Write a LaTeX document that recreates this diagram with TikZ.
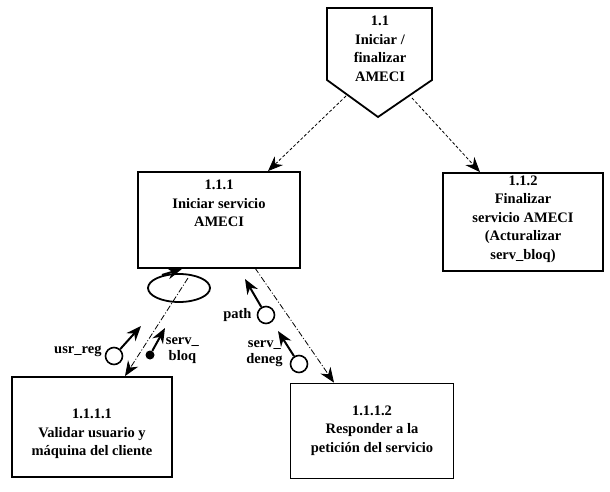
\documentclass[tikz,border=0pt]{standalone}
\usepackage{fontspec}
\setmainfont{Liberation Serif}
\usetikzlibrary{arrows.meta,positioning}

\tikzset{
  box/.style={draw, line width=1.8pt, inner sep=0pt},
  txt/.style={align=center, inner sep=2pt, font=\fontsize{14.5}{18.5}\selectfont\bfseries},
  lbl/.style={align=center, font=\fontsize{14.5}{16}\selectfont\bfseries, inner sep=1pt},
  calln/.style={densely dashed, line width=0.8pt, -{Stealth[length=15pt,width=12pt]}},
  dataln/.style={dash pattern=on 6pt off 2pt on 1pt off 2pt, line width=0.8pt},
  couple/.style={line width=2pt, -{Stealth[length=15pt,width=12pt]}},
  flagopen/.style={circle, draw, line width=1.6pt, minimum size=17pt, inner sep=0pt},
  flagfill/.style={circle, fill, minimum size=9pt, inner sep=0pt}
}

\begin{document}
\begin{tikzpicture}[x=1pt,y=-1pt]
\useasboundingbox (0,0) rectangle (610,492);

% 1.1
\draw[line width=1.8pt] (327,8) -- (432,8) -- (432,80) -- (378,117) -- (327,80) -- cycle;
\node[txt] (n11) at (380,49) {1.1\\Iniciar /\\finalizar\\AMECI};
\coordinate (n11l) at (346,96);
\coordinate (n11r) at (412,98);

% second level
\node[box, minimum width=162pt, minimum height=96pt] (n111) at (219,220) {};
\node[txt, below=7pt of n111.north] (t111) {1.1.1\\Iniciar servicio\\AMECI};
\node[box, minimum width=160pt, minimum height=98pt] (n112) at (523,222) {};
\node[txt, below=1.5pt of n112.north] (t112)
  {1.1.2\\Finalizar\\servicio AMECI\\(Acturalizar\\serv\_bloq)};

% third level
\node[box, minimum width=160pt, minimum height=100pt] (n1111) at (92,427) {};
\node[txt, below=31pt of n1111.north] (t1111) {1.1.1.1\\Validar usuario y\\máquina del cliente};
\node[box, minimum width=163pt, minimum height=95pt] (n1112) at (372,431) {};
\node[txt, below=21pt of n1112.north] (t1112) {1.1.1.2\\Responder a la\\petición del servicio};

% calls
\draw[calln] (n11l) -- (n111.north -| 268,0);
\draw[calln] (n11r) -- (n112.north -| 480,0);

% loop
\coordinate (loopc) at (179,288);
\draw[line width=1.8pt] (loopc) ellipse [x radius=31pt, y radius=14pt];
\coordinate (loopa) at (162,275);
\draw[couple] (loopa) -- (n111.south -| 182,0);

% data lines
\coordinate (d1s) at (188,278);
\draw[dataln, -{Stealth[length=15pt,width=12pt]}] (d1s) -- (n1111.north -| 125,0);
\coordinate (d2s) at (255,268);
\draw[dataln, -{Stealth[length=15pt,width=12pt]}] (d2s) -- (n1112.north -| 334,0);

% couples
\node[flagopen] (usr) at (114,356) {};
\coordinate (usrt) at (141,326);
\draw[couple] (usr) -- (usrt);
\node[lbl, left=2pt of usr, yshift=5pt] {usr\_reg};

\node[flagfill] (blq) at (150,355) {};
\coordinate (blqt) at (165,328);
\draw[couple] (blq) -- (blqt);
\node[lbl, right=10pt of blq, yshift=4pt] {serv\_\\bloq};

\node[flagopen] (pth) at (266,315) {};
\coordinate (ptht) at (245,279);
\draw[couple] (pth) -- (ptht);
\node[lbl, left=4pt of pth] {path};

\node[flagopen] (dng) at (299,364) {};
\coordinate (dngt) at (278,331);
\draw[couple] (dng) -- (dngt);
\node[lbl, left=6pt of dng, yshift=10pt] {serv\_\\deneg};
\end{tikzpicture}
\end{document}
